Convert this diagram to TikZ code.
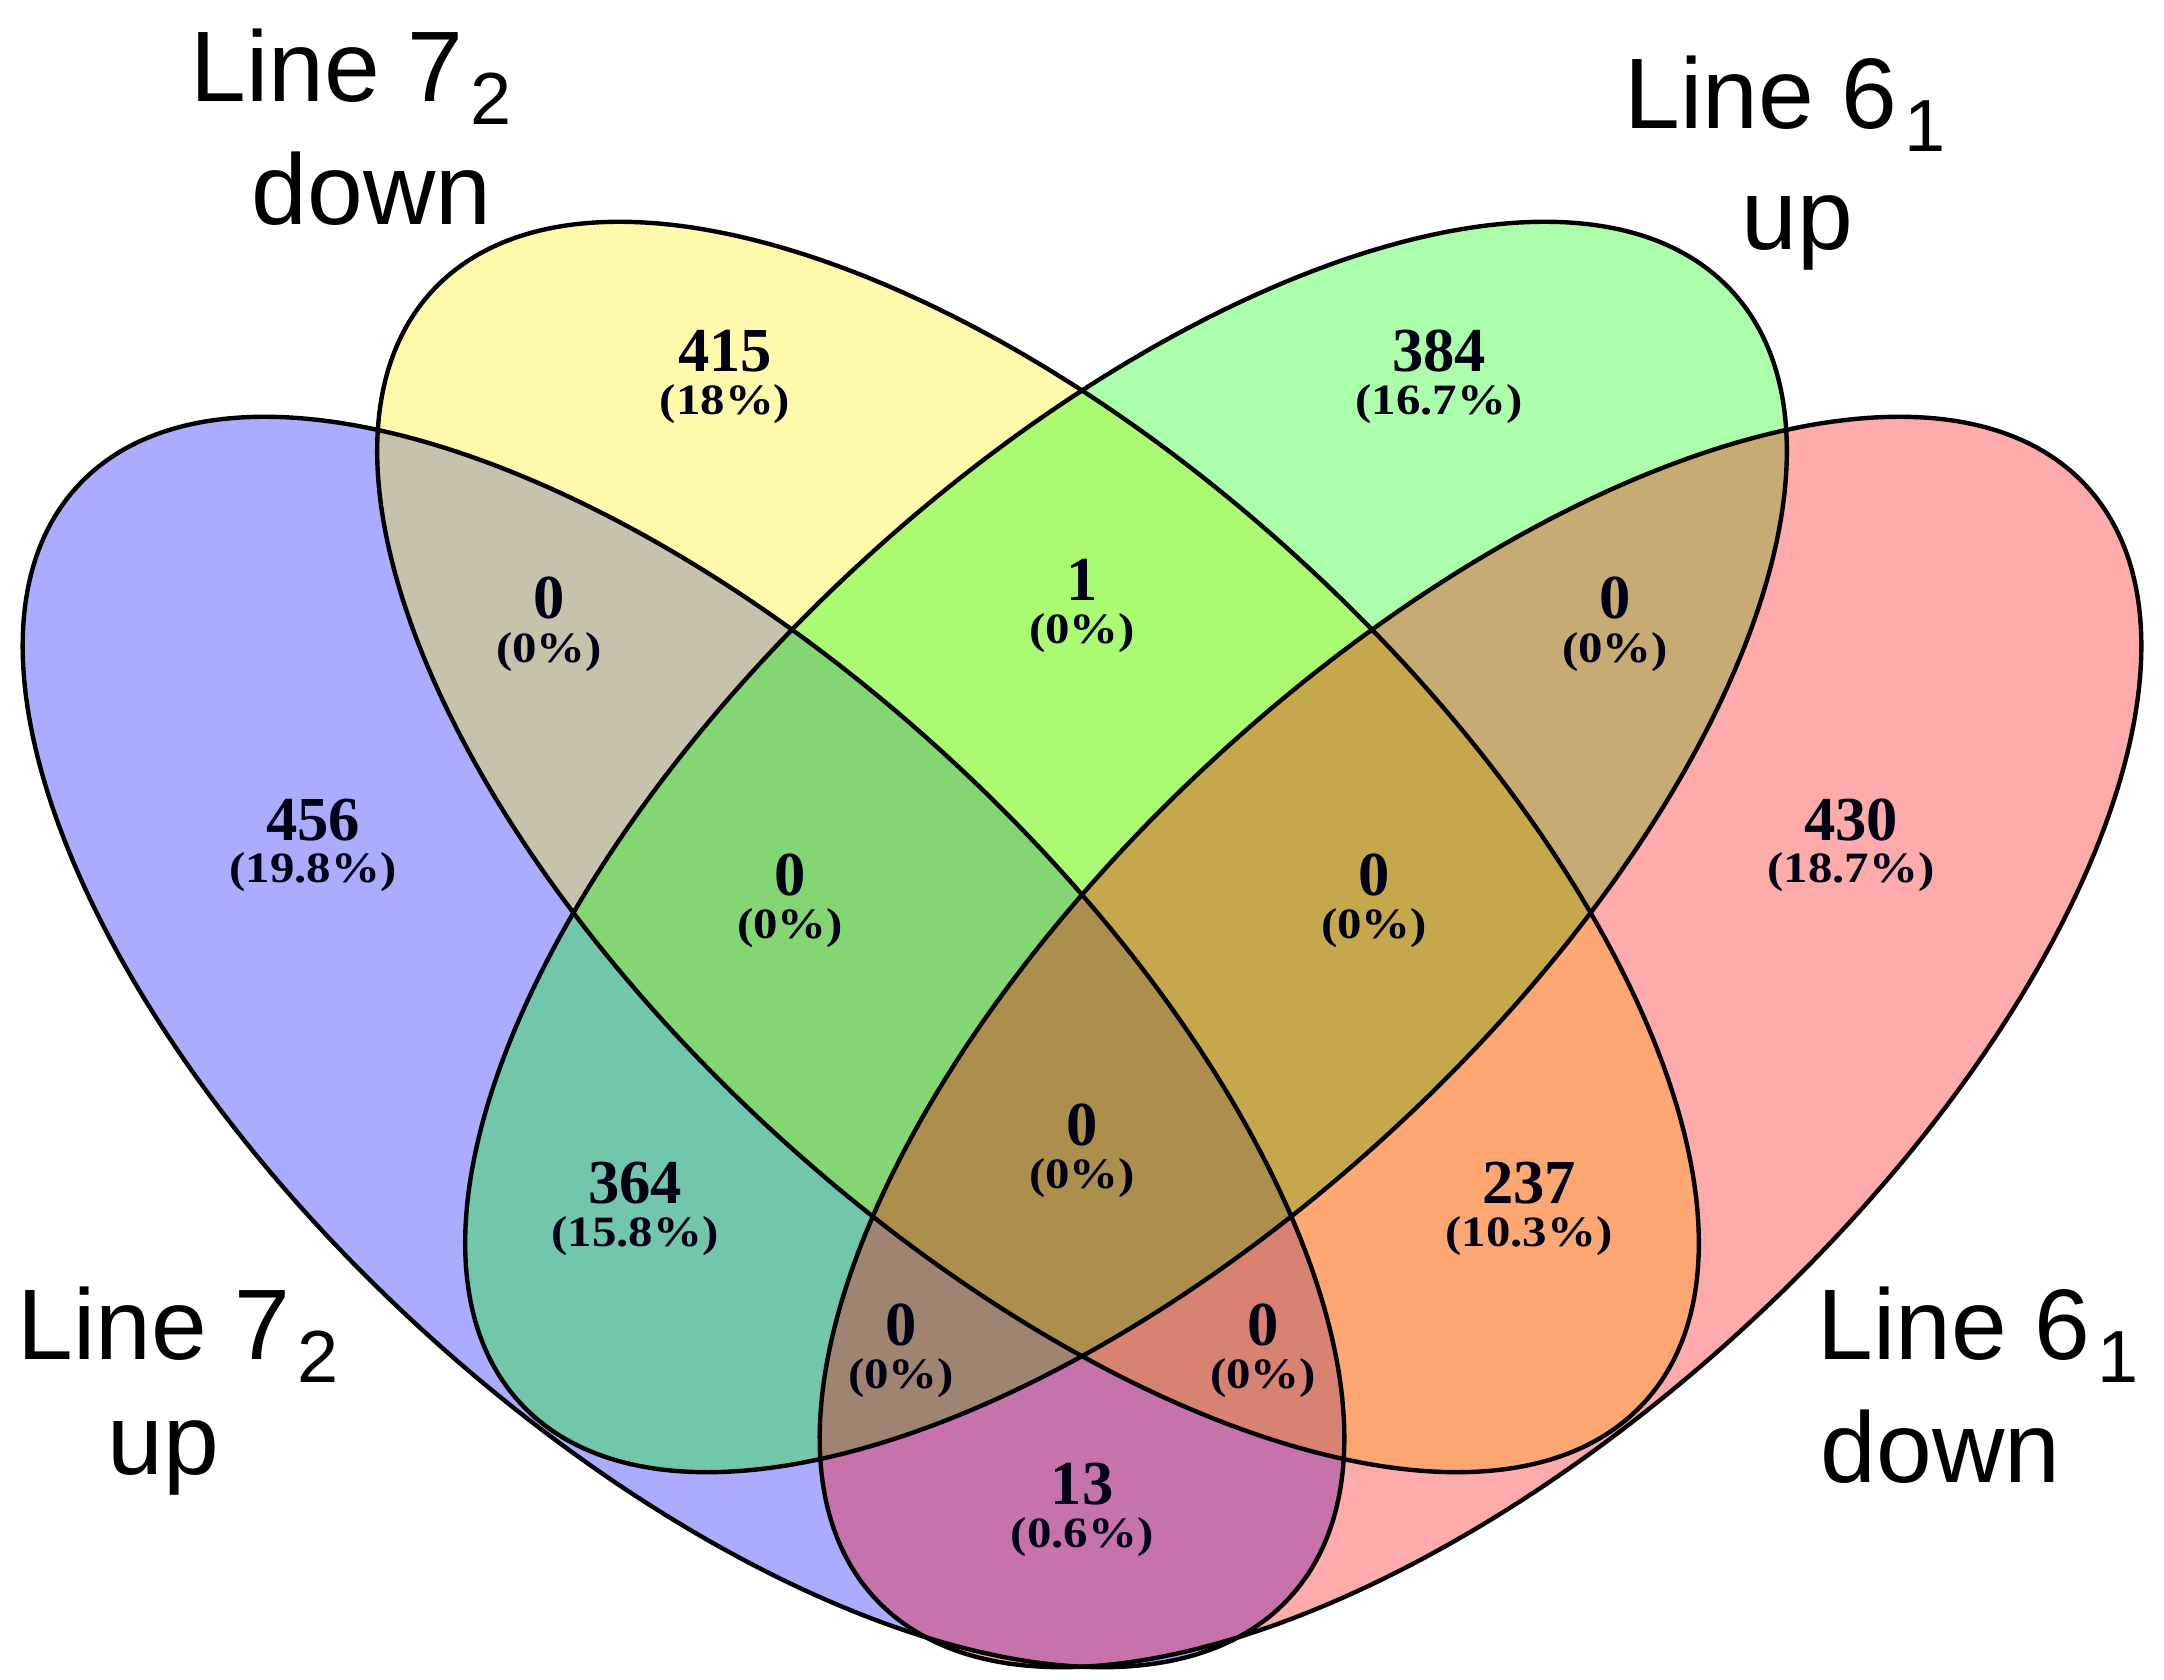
\documentclass[tikz,border=0pt]{standalone}
\usepackage{fontspec}
\setmainfont{Liberation Serif}
\newfontfamily\labfont{Liberation Sans}
\newcommand\mysubd[1]{\kern2pt\raisebox{-6.5pt}{\fontsize{21}{21}\selectfont #1}}
\newcommand\mypct[1]{\scalebox{1.13}[1]{#1}}
\begin{document}
\begin{tikzpicture}[x=0.01cm,y=0.01cm,
  cnt/.style={font=\fontsize{17.8}{17.8}\selectfont\bfseries, inner sep=0pt, text=black!92!blue},
  pct/.style={font=\fontsize{12.3}{12.3}\selectfont\bfseries, inner sep=0pt, text=black!92!blue},
  setlab/.style={font=\labfont\fontsize{28.5}{28.5}\selectfont, inner sep=0pt, anchor=base west},
  setfill/.style={fill opacity=0.33},
  setline/.style={draw=black, line width=1.25pt},
  ell/.style={x radius=8.218cm, y radius=3.885cm}
]
\fill[white] (0,0) rectangle (2164,1679);
\useasboundingbox (0,0) rectangle (2164,1679);

% translucent sets
\fill[blue, setfill]   (683.5,637) circle[ell, rotate=-42.5];
\fill[yellow, setfill] (1038,832)  circle[ell, rotate=-42.5];
\fill[green, setfill]  (1126,832)  circle[ell, rotate=42.5];
\fill[red, setfill]    (1480.5,637) circle[ell, rotate=42.5];

% outlines
\draw[setline] (683.5,637) circle[ell, rotate=-42.5];
\draw[setline] (1038,832)  circle[ell, rotate=-42.5];
\draw[setline] (1126,832)  circle[ell, rotate=42.5];
\draw[setline] (1480.5,637) circle[ell, rotate=42.5];

% counts
\node[cnt] (nA) at (313,859) {456};   \node[pct] (pA) at (313,807) {\mypct{(19.8\%)}};
\node[cnt] (nB) at (725,1328) {415};  \node[pct] (pB) at (725,1275) {\mypct{(18\%)}};
\node[cnt] (nC) at (1439,1328) {384}; \node[pct] (pC) at (1439,1275) {\mypct{(16.7\%)}};
\node[cnt] (nD) at (1851,859) {430};  \node[pct] (pD) at (1851,807) {\mypct{(18.7\%)}};
\node[cnt] (nAB) at (549,1081) {0};   \node[pct] (pAB) at (549,1027) {\mypct{(0\%)}};
\node[cnt] (nBC) at (1082,1099) {1};  \node[pct] (pBC) at (1082,1046) {\mypct{(0\%)}};
\node[cnt] (nCD) at (1615,1081) {0};  \node[pct] (pCD) at (1615,1027) {\mypct{(0\%)}};
\node[cnt] (nABC) at (790,804) {0};   \node[pct] (pABC) at (790,751) {\mypct{(0\%)}};
\node[cnt] (nBCD) at (1374,804) {0};  \node[pct] (pBCD) at (1374,751) {\mypct{(0\%)}};
\node[cnt] (nAC) at (635,496) {364};  \node[pct] (pAC) at (635,443) {\mypct{(15.8\%)}};
\node[cnt] (nBD) at (1529,496) {237}; \node[pct] (pBD) at (1529,443) {\mypct{(10.3\%)}};
\node[cnt] (nABCD) at (1082,554) {0}; \node[pct] (pABCD) at (1082,501) {\mypct{(0\%)}};
\node[cnt] (nACD) at (901,354) {0};   \node[pct] (pACD) at (901,301) {\mypct{(0\%)}};
\node[cnt] (nABD) at (1263,354) {0};  \node[pct] (pABD) at (1263,301) {\mypct{(0\%)}};
\node[cnt] (nAD) at (1082,195) {13};  \node[pct] (pAD) at (1082,142) {\mypct{(0.6\%)}};

% set labels
\node[setlab] (lBa) at (190,1577) {Line 7\mysubd{2}};
\node[setlab] (lBb) at (251,1454) {down};
\node[setlab] (lCa) at (1624,1550) {Line 6\mysubd{1}};
\node[setlab] (lCb) at (1741,1429) {up};
\node[setlab] (lAa) at (17,319) {Line 7\mysubd{2}};
\node[setlab] (lAb) at (107,204) {up};
\node[setlab] (lDa) at (1817,319) {Line 6\mysubd{1}};
\node[setlab] (lDb) at (1820,196) {down};
\end{tikzpicture}
\end{document}
